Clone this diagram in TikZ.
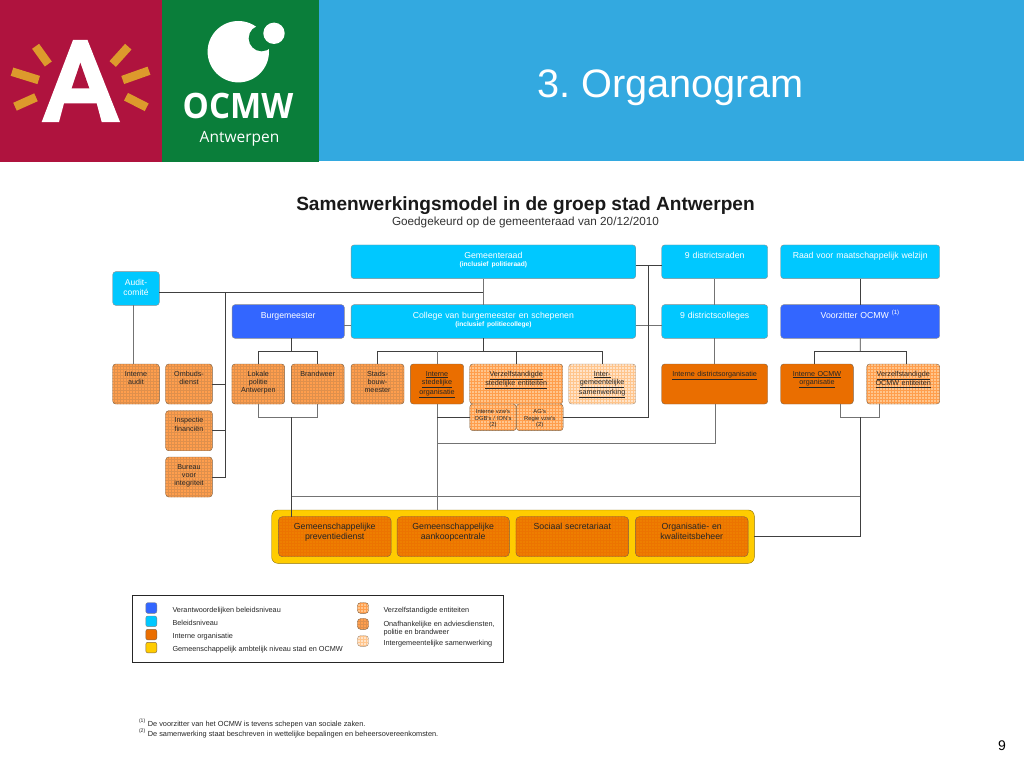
\documentclass[tikz,border=0pt]{standalone}
\usepackage{fontspec}
\setmainfont{Liberation Sans}
\newfontfamily\logofont{Open Sans}
\usetikzlibrary{patterns}
\definecolor{kopblauw}{HTML}{33A9E0}
\definecolor{stadrood}{HTML}{AF133E}
\definecolor{ocmwgroen}{HTML}{0A7E3A}
\definecolor{straal}{HTML}{DD9A2C}
\definecolor{blauw}{HTML}{3366FF}
\definecolor{cyaan}{HTML}{00C8FF}
\definecolor{oranje}{HTML}{EA6E00}
\definecolor{geeloranje}{HTML}{EE7E00}
\definecolor{geel}{HTML}{FFCC00}
\definecolor{ruit}{HTML}{FF9E4D}
\definecolor{ruitlicht}{HTML}{FFC58C}
\definecolor{ruitbleek}{HTML}{FFE3C8}
\definecolor{rand}{HTML}{7F6448}
\begin{document}
\frenchspacing
\begin{tikzpicture}[
      x=1pt, y=-1pt,
      % --- STYLES ---
      every node/.style={font=\fontsize{7.2}{8.3}\selectfont, inner sep=1pt, outer sep=0pt, align=center},
      breed/.style={text width=#1pt-2pt},
      hoog-a/.style={minimum height=33.7pt, text height=13pt, text depth=18.7pt},
      hoog-b/.style={minimum height=40pt, text height=11pt, text depth=27pt},
      hoog-c/.style={minimum height=26.7pt, text height=8.5pt, text depth=16.2pt, font=\fontsize{5.8}{6.6}\selectfont},
      hoog-d/.style={minimum height=40pt, text height=12pt, text depth=26pt, font=\fontsize{8.75}{10.2}\selectfont},
      beleid/.style={rectangle, draw=black!45, fill=cyaan, rounded corners=3pt, text=white, font=\fontsize{8.7}{9}\selectfont},
      verantw/.style={rectangle, draw=black!45, fill=blauw, rounded corners=3pt, text=white, font=\fontsize{8.7}{9}\selectfont},
      intern/.style={rectangle, draw=rand, fill=oranje, rounded corners=3pt, text=black!85},
      onafh/.style={rectangle, draw=rand, preaction={fill=ruit}, preaction={pattern=grid, pattern color=ruit!75!rand}, rounded corners=3pt, text=black!85},
      verzelf/.style={rectangle, draw=rand, preaction={fill=ruitlicht}, preaction={pattern=grid, pattern color=ruit}, rounded corners=3pt, text=black!85},
      intergem/.style={rectangle, draw=rand!70, preaction={fill=ruitbleek}, preaction={pattern=grid, pattern color=ruitlicht}, rounded corners=3pt, text=black!85},
      gemeen/.style={rectangle, draw=rand, preaction={fill=geeloranje}, preaction={pattern=grid, pattern color=oranje!60!geeloranje}, rounded corners=4pt, text=black!85},
      stalen/.style={minimum width=11pt, minimum height=10.6pt, inner sep=0pt, rounded corners=2pt},
      legende/.style={anchor=base west, align=left, font=\fontsize{7.3}{8}\selectfont, text=black!85},
      voet/.style={anchor=base west, align=left, font=\fontsize{7.36}{8}\selectfont, text=black!85},
      line/.style={line width=0.8pt, draw=black!75},
      grijs/.style={line width=1pt, draw=black!55},
      straalstuk/.style={line width=8.6pt, draw=straal}
  ]
    \path[use as bounding box, fill=white] (0,0) rectangle (1024,768);
    %
    % 1. Header
    \fill[kopblauw] (318,0) rectangle (1024,161);
    \fill[stadrood] (0,0) rectangle (162,161.5);
    \fill[ocmwgroen] (162,0) rectangle (318.5,161.5);
    \node[font=\fontsize{39.7}{44}\selectfont, text=white, anchor=base] (kop) at (670.5,97) {3. Organogram};
    \node[font=\fontsize{14}{16}\selectfont, anchor=base] (pagina) at (1002,750) {9};
    %
    % 2. Logo stad
    \fill[white] (73,40) -- (87.5,40) -- (120,122) -- (101.7,122) -- (96.7,103.3) -- (64,103.3) -- (59,122) -- (41.7,122) -- cycle;
    \fill[stadrood] (80.3,62.7) -- (89.3,88.3) -- (71.7,88.3) -- cycle;
    \draw[straalstuk] (35.6,46.3) -- (48.3,64);
    \draw[straalstuk] (12,71.7) -- (38.7,80);
    \draw[straalstuk] (15,106.7) -- (36,97.3);
    \draw[straalstuk] (128.3,46.7) -- (112.7,64);
    \draw[straalstuk] (149,70.7) -- (122.7,80);
    \draw[straalstuk] (126,96.7) -- (146.7,107.3);
    %
    % 3. Logo OCMW
    \fill[white] (238.3,51.7) circle (30.7);
    \fill[ocmwgroen] (261.7,38.3) circle (13);
    \fill[white] (274,33.3) circle (10.7);
    \node[font=\logofont\bfseries\fontsize{35}{37}\selectfont, text=white, anchor=base, xscale=0.945, transform shape] (ocmwnaam) at (238,118.5) {OCMW};
    \node[font=\logofont\fontsize{15.5}{16}\selectfont, text=white, anchor=base] (ocmwstad) at (239.5,142) {Antwerpen};
    %
    % 4. Titles
    \node[font=\bfseries\fontsize{19.1}{21}\selectfont, text=black!90, anchor=base] (titel) at (525.5,210) {Samenwerkingsmodel in de groep stad Antwerpen};
    \node[font=\fontsize{11.74}{13}\selectfont, text=black!80, anchor=base] (subtitel) at (525.5,225) {Goedgekeurd op de gemeenteraad van 20/12/2010};
    %
    % 5. Level 1 and 2
    \node[beleid, breed=46.6, hoog-a, font=\fontsize{8.5}{10}\selectfont] (audit) at (136,288.5) {Audit-\\comité};
    \node[beleid, breed=284.7, hoog-a] (raad) at (493.4,261.8) {Gemeenteraad\\[-1.5pt]{\bfseries\fontsize{6.6}{7}\selectfont (inclusief politieraad)}};
    \node[beleid, breed=284.7, hoog-a] (college) at (493.4,321.5) {College van burgemeester en schepenen\\[-1.5pt]{\bfseries\fontsize{6.6}{7}\selectfont (inclusief politiecollege)}};
    \node[verantw, breed=112.3, hoog-a] (burg) at (288.2,321.5) {Burgemeester};
    \node[beleid, breed=106, hoog-a] (raden) at (714.7,261.8) {9 districtsraden};
    \node[beleid, breed=106, hoog-a] (colleges) at (714.7,321.5) {9 districtscolleges};
    \node[beleid, breed=159, hoog-a] (ocmwraad) at (860.2,261.8) {Raad voor maatschappelijk welzijn};
    \node[verantw, breed=159, hoog-a] (voorz) at (860.2,321.5) {Voorzitter OCMW \textsuperscript{(1)}};
    %
    % 6. Level 3
    \node[onafh, breed=46.6, hoog-b] (iaudit) at (136,384) {Interne\\audit};
    \node[onafh, breed=46.6, hoog-b] (ombuds) at (189,384) {Ombuds-\\dienst};
    \node[onafh, breed=46.6, hoog-b] (inspectie) at (189,430.7) {Inspectie\\financiën};
    \node[onafh, breed=46.6, hoog-b] (bureau) at (189,477) {Bureau\\voor\\integriteit};
    \node[onafh, breed=52.7, hoog-b] (lokale) at (258.3,384) {Lokale\\politie\\Antwerpen};
    \node[onafh, breed=52.7, hoog-b] (brand) at (317.7,384) {Brandweer};
    \node[onafh, breed=53, hoog-b] (stads) at (377.5,384) {Stads-\\bouw-\\meester};
    \node[intern, breed=53.4, hoog-b] (org) at (437,384) {\underline{Interne}\\\underline{stedelijke}\\\underline{organisatie}};
    \node[verzelf, breed=93, hoog-b] (verz) at (516.2,384) {\underline{Verzelfstandigde}\\\underline{stedelijke entiteiten}};
    \node[intergem, breed=67, hoog-b] (inter) at (602.2,384) {\underline{Inter-}\\\underline{gemeentelijke}\\\underline{samenwerking}};
    \node[verzelf, breed=46.3, hoog-c] (vzw) at (493,417.3) {Interne vzw's\\OGB's / ION's\\(2)};
    \node[verzelf, breed=46.7, hoog-c] (ag) at (539.7,417.3) {AG's\\Regie vzw's\\(2)};
    \node[intern, breed=106, hoog-b] (idistr) at (714.7,384) {\underline{Interne districtsorganisatie}};
    \node[intern, breed=72.6, hoog-b] (iocmw) at (817,384) {\underline{Interne OCMW}\\\underline{organisatie}};
    \node[verzelf, breed=73, hoog-b] (vocmw) at (903.2,384) {\underline{Verzelfstandigde}\\\underline{OCMW entiteiten}};
    %
    % 7. Common level
    \node[rectangle, draw=black!45!geel, fill=geel, rounded corners=6pt, minimum width=482.6pt, minimum height=53.3pt] (geelvlak) at (513,536.65) {};
    \node[gemeen, breed=112.7, hoog-d] (prev) at (334.7,536.7) {Gemeenschappelijke\\preventiedienst};
    \node[gemeen, breed=112.3, hoog-d] (aank) at (453.2,536.7) {Gemeenschappelijke\\aankoopcentrale};
    \node[gemeen, breed=112.7, hoog-d] (sociaal) at (572.3,536.7) {Sociaal secretariaat};
    \node[gemeen, breed=112.7, hoog-d] (kwal) at (691.7,536.7) {Organisatie- en\\kwaliteitsbeheer};
    %
    % 8. Junctions
    \coordinate (jAudit) at (483.3,292.3);
    \coordinate (jStam) at (225.7,292.3);
    \coordinate (jRaad) at (648.7,265.3);
    \coordinate (jBus) at (483.3,351.3);
    \coordinate (jBurg) at (291.7,351.3);
    \coordinate (jOnder) at (291.7,417.3);
    \coordinate (jDistr) at (715,443.3);
    \coordinate (jGem) at (291.7,496.7);
    \coordinate (jOcmw) at (860.3,496.7);
    \coordinate (jVoorz) at (860.3,351.3);
    \coordinate (jOnderOcmw) at (860.3,417.3);
    %
    % 9. Links audit
    \draw[line] (jAudit -| audit.east) -- (jAudit);
    \draw[grijs] ([xshift=-2.7pt]audit.south) -- ([xshift=-2.7pt]iaudit.north);
    \draw[line] (jStam) -- (bureau.east -| jStam) -- (bureau.east);
    \draw[line] (ombuds.east) -- (ombuds.east -| jStam);
    \draw[line] (inspectie.east) -- (inspectie.east -| jStam);
    %
    % 10. Links council and college
    \draw[grijs] (raad.south -| jAudit) -- (college.north -| jAudit);
    \draw[grijs] ([yshift=-3.5pt]burg.east) -- ([yshift=-3.5pt]college.west);
    \draw[grijs] ([yshift=-3.5pt]college.east) -- ([yshift=-3.5pt]colleges.west);
    \draw[line] ([yshift=-3.5pt]raad.east) -- ([yshift=-3.5pt]raden.west);
    \draw[line] (jRaad) |- (ag.east);
    \draw[line] (college.south -| jBus) -- (jBus);
    \draw[line] (stads.north) |- (jBus) -| (inter.north);
    \draw[grijs] (jBus -| org.north) -- (org.north);
    \draw[line] (jBus -| verz.north) -- (verz.north);
    %
    % 11. Links burgemeester
    \draw[line] (burg.south -| jBurg) -- (jBurg);
    \draw[line] (lokale.north) |- (jBurg) -| (brand.north);
    \draw[grijs] (lokale.south) |- (jOnder) -| (brand.south);
    \draw[line] (jOnder) -- (prev.north -| jOnder);
    %
    % 12. Links internal organisation
    \draw[grijs] (org.south) -- (org.south |- geelvlak.north);
    \draw[line] (vzw.west) -- (vzw.west -| org.south);
    \draw[grijs] (org.south |- jDistr) -- (jDistr) -- (idistr.south -| jDistr);
    \draw[grijs] (jGem) -- (jOcmw);
    %
    % 13. Links districts
    \draw[grijs] (raden.south) -- (colleges.north);
    \draw[grijs] (colleges.south) -- (idistr.north);
    %
    % 14. Links OCMW
    \draw[line] (ocmwraad.south) -- (voorz.north);
    \draw[line] (voorz.south) -- (jVoorz);
    \draw[line] ([xshift=-2.7pt]iocmw.north) |- (jVoorz) -| ([xshift=3.5pt]vocmw.north);
    \draw[grijs] ([xshift=23pt]iocmw.south) |- (jOnderOcmw) -| ([xshift=-23.9pt]vocmw.south);
    \draw[line] (jOnderOcmw) |- (geelvlak.east);
    %
    % 15. Legend
    \node[draw=black!85, line width=0.8pt, minimum width=370.6pt, minimum height=66.6pt] (legendakader) at (318,629) {};
    \node[stalen, draw=black!50, fill=blauw] (s1) at (151.3,608) {};
    \node[stalen, draw=black!50, fill=cyaan] (s2) at (151.3,621.3) {};
    \node[stalen, draw=rand, fill=oranje] (s3) at (151.3,634.6) {};
    \node[stalen, draw=rand, fill=geel] (s4) at (151.3,647.6) {};
    \node[legende] (t1) at (171.5,612) {Verantwoordelijken beleidsniveau};
    \node[legende] (t2) at (171.5,625.5) {Beleidsniveau};
    \node[legende] (t3) at (171.5,638.5) {Interne organisatie};
    \node[legende] (t4) at (171.5,651.5) {Gemeenschappelijk ambtelijk niveau stad en OCMW};
    \node[stalen, verzelf, minimum height=10.6pt] (s5) at (363,608) {};
    \node[stalen, onafh, minimum height=10.6pt] (s6) at (363,624) {};
    \node[stalen, intergem, minimum height=10.6pt] (s7) at (363,641) {};
    \node[legende] (t5) at (382.5,612) {Verzelfstandigde entiteiten};
    \node[legende] (t6) at (382.5,634) {Onafhankelijke en adviesdiensten,\\politie en brandweer};
    \node[legende] (t7) at (382.5,645.5) {Intergemeentelijke samenwerking};
    %
    % 16. Footnotes
    \node[voet] (v1) at (138,726) {\textsuperscript{(1)} De voorzitter van het OCMW is tevens schepen van sociale zaken.};
    \node[voet] (v2) at (138,736) {\textsuperscript{(2)} De samenwerking staat beschreven in wettelijke bepalingen en beheersovereenkomsten.};
\end{tikzpicture}
\end{document}
